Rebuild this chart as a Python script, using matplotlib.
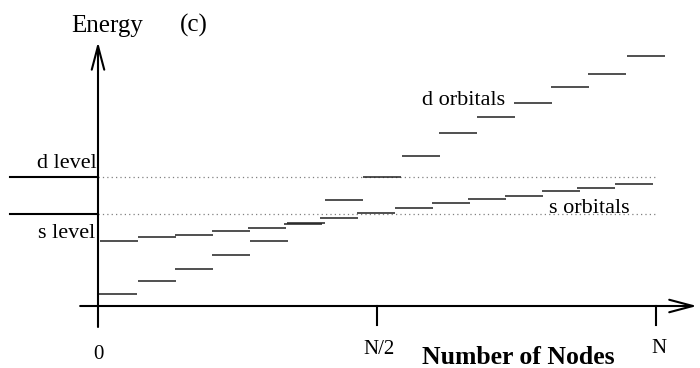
import numpy as np
import matplotlib
matplotlib.use("Agg")
import matplotlib.pyplot as plt

plt.rcParams['font.family'] = ['Liberation Serif', 'DejaVu Serif']

# energy levels, x = node index (N = 15), width of one orbital = 1
s_low_x = np.array([0.03, 1.08, 2.07, 3.06, 4.09, 5.08])
s_low_E = np.array([1.2, 2.47, 3.67, 5.13, 6.47, 8.35])
s_up_x = np.array([0.05, 1.08, 2.07, 3.06, 4.03, 5.0])
s_up_E = np.array([6.53, 6.87, 7.13, 7.47, 7.8, 8.2])
s_right_x = np.array([5.97, 6.96, 7.98, 8.98, 9.95, 10.94, 11.94, 12.88, 13.9])
s_right_E = np.array([8.77, 9.3, 9.8, 10.3, 10.7, 11.03, 11.47, 11.8, 12.17])
d_x = np.array([6.1, 7.12, 8.17, 9.17, 10.19, 11.18, 12.18, 13.17, 14.22])
d_E = np.array([10.63, 12.87, 15.03, 17.27, 18.87, 20.27, 21.87, 23.2, 25.03])
width = 1.03

N = 15
s_level = 9.2
d_level = 12.9
tick_pos = [0, N / 2, N]
tick_labels = ['0', 'N/2', 'N']

fig = plt.figure(figsize=(7, 3.68), dpi=100)
ax = fig.add_axes([0, 0, 1, 1])
ax.set_xlim(-98 / 37.2, (700 - 98) / 37.2)
ax.set_ylim(-6.2, 30.6)
ax.axis('off')

# axes with open arrows
arrow = dict(arrowstyle='->,head_length=1.7,head_width=0.45', lw=1.5, color='black',
             shrinkA=0, shrinkB=0)
ax.annotate('', xy=(0, 26.4), xytext=(0, -2.1), arrowprops=arrow)
ax.annotate('', xy=(16.1, 0), xytext=(-0.48, 0), arrowprops=arrow)
for t in tick_pos[1:]:
    ax.plot([t, t], [0, -1.9], color='black', lw=1.5)
for t, lab, yy in zip([0.02, N / 2 + 0.05, N + 0.07], tick_labels, [-5.3, -4.75, -4.7]):
    ax.text(t, yy, lab, ha='center', va='baseline', fontsize=15)

# atomic levels
ax.plot([-2.37, 0], [d_level, d_level], color='black', lw=1.5)
ax.plot([-2.37, 0], [s_level, s_level], color='black', lw=1.5)
ax.plot([0, 14.97], [d_level, d_level], color='gray', lw=0.9, ls=(0, (1, 2.5)))
ax.plot([0, 14.97], [s_level, s_level], color='gray', lw=0.9, ls=(0, (1, 2.5)))

# orbitals
for xs, es in [(s_low_x, s_low_E), (s_up_x, s_up_E), (s_right_x, s_right_E), (d_x, d_E)]:
    ax.hlines(es, xs, xs + width, color='#202020', lw=1.1)

ax.text(-0.03, 13.77, 'd level', ha='right', va='baseline', fontsize=16)
ax.text(-0.08, 6.77, 's level', ha='right', va='baseline', fontsize=16)
ax.text(8.71, 20.1, 'd orbitals', ha='left', va='baseline', fontsize=16)
ax.text(12.12, 9.3, 's orbitals', ha='left', va='baseline', fontsize=16)
ax.text(0.24, 27.43, 'Energy', ha='center', va='baseline', fontsize=18)
ax.text(2.58, 27.43, '(c)', ha='center', va='baseline', fontsize=18)
ax.text(11.3, -5.85, 'Number of Nodes', ha='center', va='baseline', fontsize=18.5,
        fontweight='bold')

fig.savefig('out.png', dpi=100)
